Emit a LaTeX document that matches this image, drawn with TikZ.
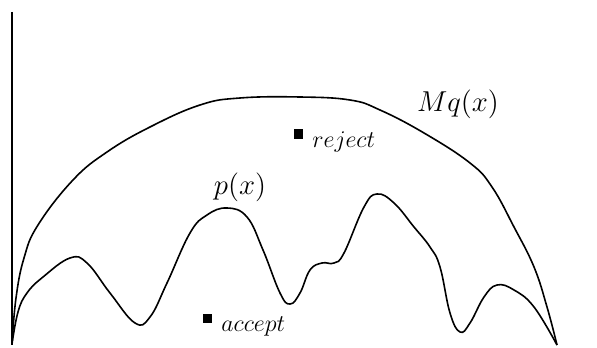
\documentclass[tikz,border=0pt]{standalone}
\begin{document}
\begin{tikzpicture}[x=0.5pt,y=-0.5pt,
  curve/.style={line width=0.8pt,line join=round},
  sq/.style={fill=black,minimum size=4.5pt,inner sep=0pt,draw=none},
  lab/.style={font=\fontsize{15}{18}\selectfont,inner sep=0pt},
  small/.style={font=\fontsize{12}{14}\selectfont,inner sep=0pt,anchor=west}]
\useasboundingbox (0,0) rectangle (597,347);
\coordinate (top) at (12,12);
\coordinate (o) at (12,345);
\draw[curve] (top) -- (o);
% Mq(x)
\draw[curve] plot[smooth,tension=0.7] coordinates {(12,344) (16,298) (24,258) (38,225) (73,180) (107,152) (150,127) (200,105) (240,98) (300,97) (350,100) (380,110) (424,133) (470,163) (492,187) (514,227) (534,267) (547,307) (557,345)};
% p(x)
\draw[curve] plot[smooth,tension=0.7] coordinates {(12,344) (18,312) (27,293) (43,277) (70,258) (87,263) (110,293) (135,323) (150,317) (167,283) (190,233) (207,215) (227,208) (247,217) (263,250) (280,293) (290,304) (300,293) (310,270) (322,263) (334,263) (344,253) (364,207) (377,194) (394,203) (414,227) (430,247) (440,267) (450,313) (460,332) (470,323) (484,297) (497,285) (514,290) (534,307) (557,345)};
\node[lab] (mq) at (458,104) {$Mq(x)$};
\node[lab] (px) at (240,187) {$p(x)$};
\node[sq] (rs) at (298,134) {};
\node[small] (rt) at (312,142) {$reject$};
\node[sq] (as) at (207,318) {};
\node[small] (at) at (221,326) {$accept$};
\end{tikzpicture}
\end{document}
